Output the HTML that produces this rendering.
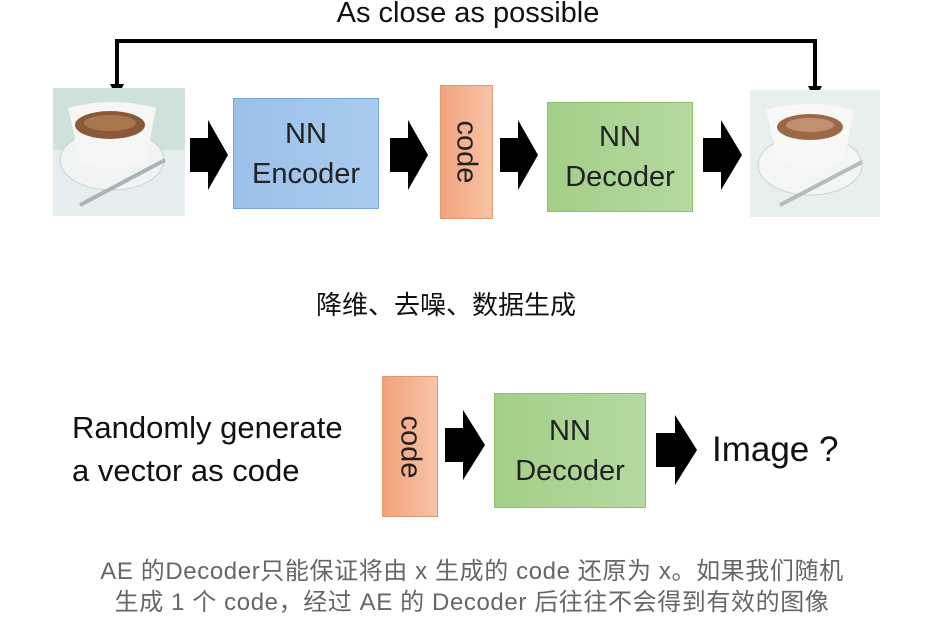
<!DOCTYPE html>
<html><head><meta charset="utf-8"><style>
body{margin:0;width:946px;height:624px;background:#fff;position:relative;overflow:hidden;font-family:"Liberation Sans","Noto Sans CJK SC",sans-serif}
.a{position:absolute}
.t{position:absolute;white-space:nowrap;color:#111}
.box{position:absolute;display:flex;align-items:center;justify-content:center;text-align:center;font-size:29px;line-height:40px;color:#222}
.enc{background:linear-gradient(90deg,#9cc0e8,#a9cbef);border:1px solid #7aa6d6}
.dec{background:linear-gradient(90deg,#a3cf87,#b5d9a0);border:1px solid #8ec06e}
.code{background:linear-gradient(90deg,#f2a27c,#f7c3a6);border:1px solid #e69870}
.code span{transform:rotate(90deg);display:block;font-size:29px}
</style></head><body>
<div class="t" style="left:0;width:936px;text-align:center;top:-3px;font-size:29px">As close as possible</div>
<svg class="a" style="left:0;top:0" width="946" height="624">
<path d="M117 97 V41 H815 V97" fill="none" stroke="#000" stroke-width="4"/>
<polygon points="110,84 124,84 117,98" fill="#000"/>
<polygon points="808,86 822,86 815,100" fill="#000"/>
<g fill="#000">
<polygon points="190,138 208,138 208,120 228,155 208,190 208,172 190,172"/>
<polygon points="390,138 408,138 408,120 428,155 408,190 408,172 390,172"/>
<polygon points="500,138 518,138 518,120 538,155 518,190 518,172 500,172"/>
<polygon points="703,138 721,138 721,120 742,155 721,190 721,172 703,172"/>
<polygon points="445,428 463,428 463,410 485,445 463,480 463,462 445,462"/>
<polygon points="656,433 675,433 675,415 697,450 675,485 675,467 656,467"/>
</g>
<g>
<rect x="53" y="88" width="132" height="128" fill="#cfe3da"/>
<rect x="53" y="150" width="132" height="66" fill="#e6eef0"/>
<ellipse cx="112" cy="160" rx="52" ry="30" fill="#f2f4f4" stroke="#c9d3d6"/>
<path d="M68 108 Q112 96 156 108 L146 160 Q112 178 80 160 Z" fill="#f6f6f4"/>
<ellipse cx="110" cy="125" rx="35" ry="14" fill="#8a5a38"/>
<ellipse cx="110" cy="123" rx="26" ry="8" fill="#a8774f"/>
<path d="M80 205 L165 160" stroke="#a9b4b8" stroke-width="4"/>
</g>
<g>
<rect x="750" y="90" width="130" height="127" fill="#e8f0ee"/>
<ellipse cx="810" cy="165" rx="52" ry="30" fill="#f4f6f6" stroke="#c9d3d6"/>
<path d="M766 110 Q810 98 854 110 L844 160 Q810 178 778 160 Z" fill="#f8f8f6"/>
<ellipse cx="810" cy="127" rx="33" ry="13" fill="#9a6a48"/>
<ellipse cx="810" cy="125" rx="24" ry="7" fill="#c09070"/>
<path d="M780 205 L862 162" stroke="#b4bcc0" stroke-width="4"/>
</g>
</svg>
<div class="box enc" style="left:233px;top:98px;width:144px;height:109px">NN<br>Encoder</div>
<div class="box code" style="left:440px;top:85px;width:51px;height:132px"><span>code</span></div>
<div class="box dec" style="left:547px;top:102px;width:144px;height:108px">NN<br>Decoder</div>
<div class="t" style="left:316px;top:287px;font-size:26px;font-family:'Noto Sans CJK SC',sans-serif;line-height:34px">降维、去噪、数据生成</div>
<div class="t" style="left:72px;top:406px;font-size:31px;line-height:43px">Randomly generate<br>a vector as code</div>
<div class="box code" style="left:382px;top:376px;width:54px;height:139px"><span>code</span></div>
<div class="box dec" style="left:494px;top:393px;width:150px;height:113px">NN<br>Decoder</div>
<div class="t" style="left:712px;top:430px;font-size:35px">Image ?</div>
<div class="t" style="left:0;width:944px;text-align:center;top:556px;font-size:24px;letter-spacing:0.6px;line-height:31px;color:#666">AE 的Decoder只能保证将由 x 生成的 code 还原为 x。如果我们随机<br>生成 1 个 code，经过 AE 的 Decoder 后往往不会得到有效的图像</div>
</body></html>
